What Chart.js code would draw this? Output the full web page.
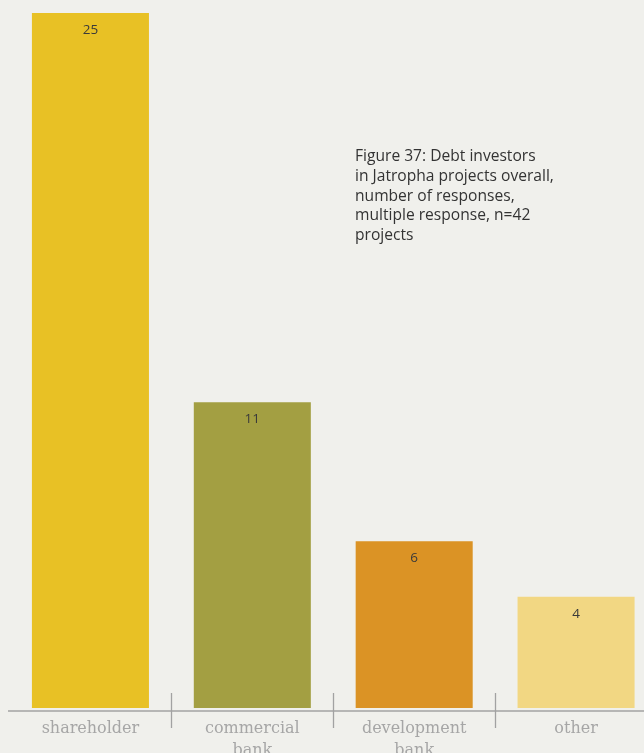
<!DOCTYPE html>
<html>
<head>
<meta charset="UTF-8">
<title>Debt investors</title>
<script src="https://cdn.jsdelivr.net/npm/chart.js@4.4.0/dist/chart.umd.min.js"></script>
<style>
html, body { margin:0; padding:0; background:#f0f0ec; }
#wrap { position:relative; width:644px; height:753px; overflow:hidden; background:#f0f0ec; }
#cap { position:absolute; left:355px; top:146px; font:15.6px "Open Sans", sans-serif; line-height:19.8px; color:#333; }
canvas { position:absolute; left:0; top:0; }
</style>
</head>
<body>
<div id="wrap">
<canvas id="myChart" width="657" height="753"></canvas>
<div id="cap">Figure 37: Debt investors<br>in Jatropha projects overall,<br>number of responses,<br>multiple response, n=42<br>projects</div>
</div>
<script>
var categories = [["shareholder"], ["commercial", "bank"], ["development", "bank"], ["other"]];
var responses = [25, 11, 6, 4];
var barColors = ['#e8c125', '#a39f42', '#db9325', '#f2d783'];

// axis line, dividers, labels drawn by hand (library axes hidden)
var axisDeco = {
	id: 'axisDeco',
	afterDraw: function(chart) {
		var ctx = chart.ctx;
		var xs = chart.scales.x;
		var area = chart.chartArea;
		var axisY = area.bottom + 3;
		ctx.save();
		ctx.strokeStyle = '#a2a2a2';
		ctx.lineWidth = 1.3;
		ctx.beginPath();
		ctx.moveTo(8, axisY);
		ctx.lineTo(chart.width, axisY);
		for (var i = 0; i < categories.length - 1; i++) {
			var bx = Math.round((xs.getPixelForValue(i) + xs.getPixelForValue(i + 1)) / 2) + 0.5;
			ctx.moveTo(bx, axisY - 18);
			ctx.lineTo(bx, axisY + 17);
		}
		ctx.stroke();

		ctx.textAlign = 'center';
		ctx.textBaseline = 'middle';
		ctx.fillStyle = '#a6a6a6';
		ctx.font = '16px "DejaVu Serif", serif';
		categories.forEach(function(lines, i) {
			var cx = xs.getPixelForValue(i);
			lines.forEach(function(t, j) {
				ctx.fillText(t, cx, axisY + 18 + j * 22);
			});
		});

		ctx.fillStyle = '#3a3a3a';
		ctx.font = '13.5px "Open Sans", sans-serif';
		var meta = chart.getDatasetMeta(0);
		meta.data.forEach(function(bar, i) {
			ctx.fillText(String(responses[i]), bar.x, bar.y + 17);
		});
		ctx.restore();
	}
};

var ctx = document.getElementById('myChart').getContext('2d');
var myChart = new Chart(ctx, {
	type: 'bar',
	data: {
		labels: categories,
		datasets: [{
			data: responses,
			backgroundColor: barColors,
			borderWidth: 0,
			categoryPercentage: 1,
			barPercentage: 0.723
		}]
	},
	options: {
		responsive: false,
		animation: false,
		layout: { padding: { left: 9.5, right: 0, top: 0, bottom: 45 } },
		plugins: { legend: { display: false }, tooltip: { enabled: false } },
		scales: {
			x: { display: false },
			y: { display: false, min: 0, max: 25.47 }
		}
	},
	plugins: [axisDeco]
});
</script>
</body>
</html>
